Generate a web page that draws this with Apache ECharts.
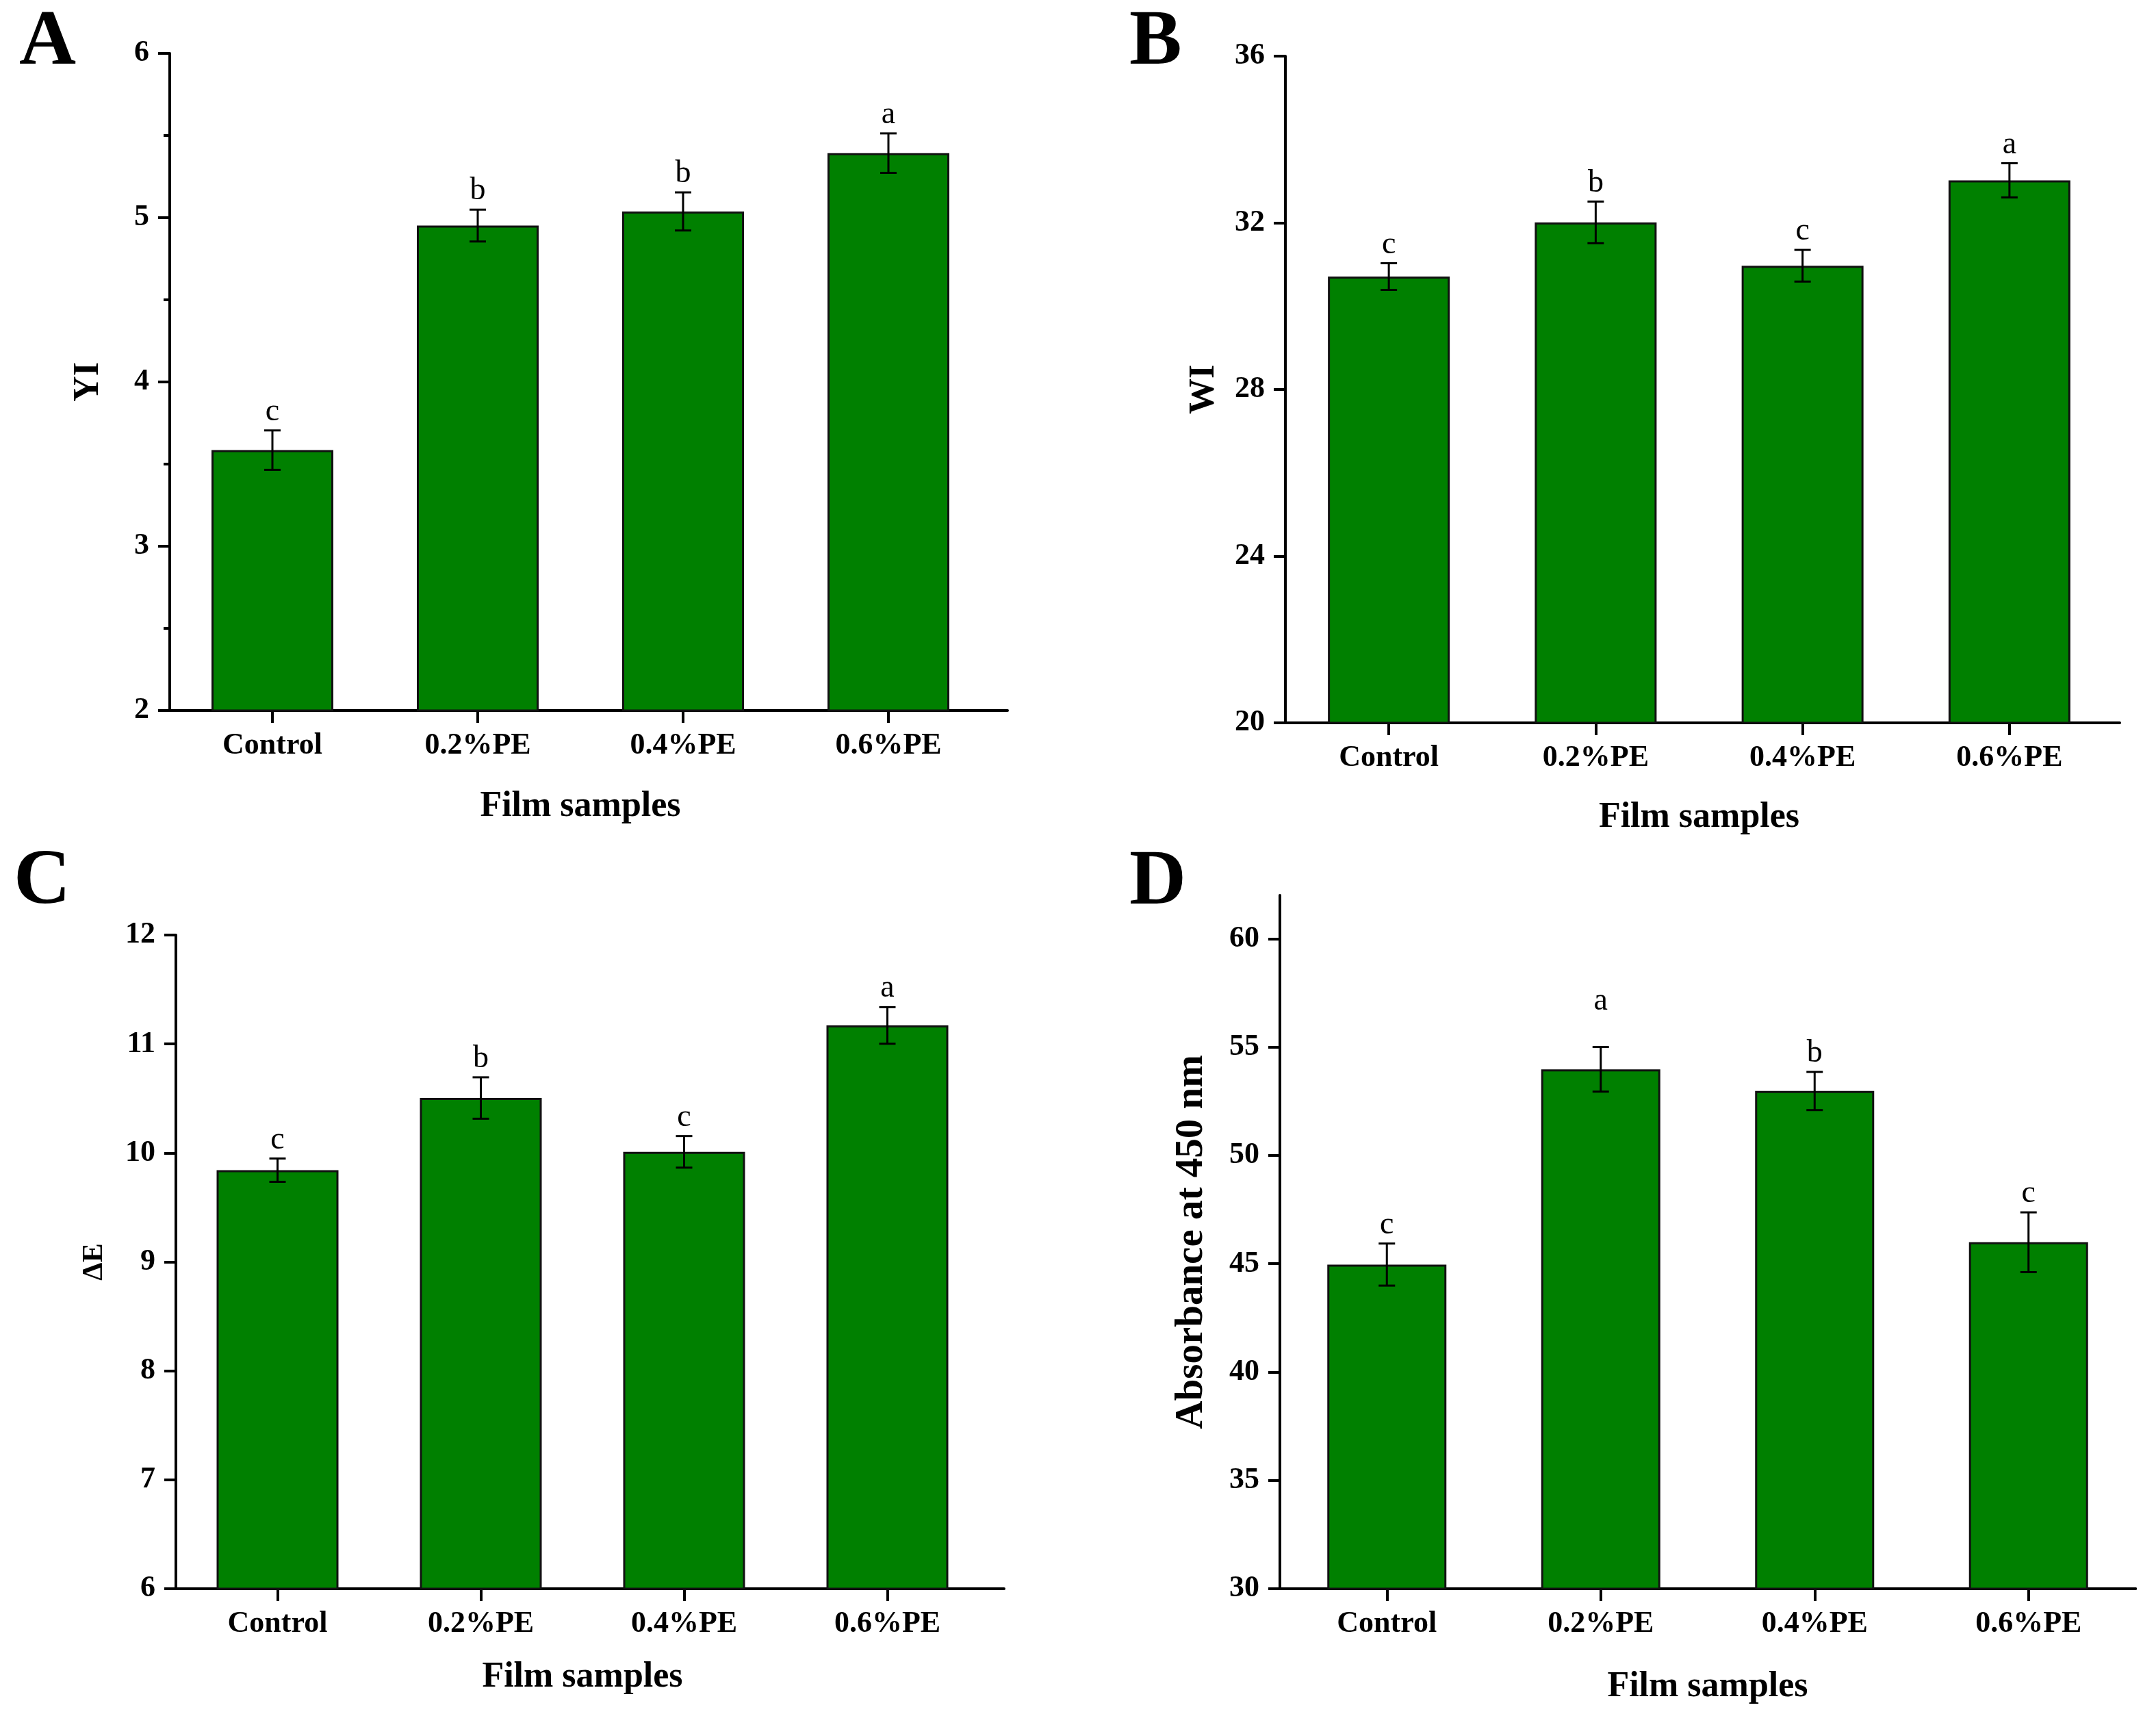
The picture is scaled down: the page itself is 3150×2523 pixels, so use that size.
<!DOCTYPE html>
<html>
<head>
<meta charset="utf-8">
<script src="https://cdn.jsdelivr.net/npm/echarts@6/dist/echarts.min.js"></script>
<style>
html,body{margin:0;padding:0;background:#fff;}
#chart{width:3150px;height:2523px;}
</style>
</head>
<body>
<div id="chart"></div>
<script>
// ---- data ----
const categories = ['Control', '0.2%PE', '0.4%PE', '0.6%PE'];

const yiMean = [3.585, 4.952, 5.038, 5.393];
const yiErr = [0.12, 0.097, 0.116, 0.12];
const yiLetters = ['c', 'b', 'b', 'a'];
const yiTicks = [2, 3, 4, 5, 6];

const wiMean = [30.71, 32.01, 30.97, 33.02];
const wiErr = [0.32, 0.5, 0.38, 0.41];
const wiLetters = ['c', 'b', 'c', 'a'];
const wiTicks = [20, 24, 28, 32, 36];

const deMean = [9.842, 10.504, 10.01, 11.17];
const deErr = [0.107, 0.19, 0.145, 0.168];
const deLetters = ['c', 'b', 'c', 'a'];
const deTicks = [6, 7, 8, 9, 10, 11, 12];

const absMean = [44.96, 53.97, 52.97, 45.99];
const absErr = [0.97, 1.03, 0.88, 1.38];
const absLetters = ['c', 'a', 'b', 'c'];
const absTicks = [30, 35, 40, 45, 50, 55, 60];

// ---- styles / layout ----
const FONT = '"Liberation Serif", "Times New Roman", serif';
const GREEN = '#008000';

const panels = [
  {tag: 'A', tagPos: [28, 6], grid: {left: 248, top: 78, width: 1200, height: 960}, ext: 24,
   name: 'YI', nameSize: 52, nameGap: 92, xGap: 115, mean: yiMean, err: yiErr, letters: yiLetters,
   ticks: yiTicks, min: 2, max: 6, interval: 1, minor: true, barWidth: 178, lift: [0,0,0,0]},
  {tag: 'B', tagPos: [1650, 6], grid: {left: 1878, top: 82, width: 1209, height: 974}, ext: 10,
   name: 'WI', nameSize: 52, nameGap: 92, xGap: 113, mean: wiMean, err: wiErr, letters: wiLetters,
   ticks: wiTicks, min: 20, max: 36, interval: 4, minor: false, barWidth: 178, lift: [0,0,0,0]},
  {tag: 'C', tagPos: [20, 1232], grid: {left: 257, top: 1366, width: 1188, height: 955}, ext: 22,
   name: 'ΔE', nameSize: 42, nameGap: 98, xGap: 104, mean: deMean, err: deErr, letters: deLetters,
   ticks: deTicks, min: 6, max: 12, interval: 1, minor: false, barWidth: 178, lift: [0,0,0,0]},
  {tag: 'D', tagPos: [1650, 1233], grid: {left: 1870, top: 1308, width: 1250, height: 1013}, ext: 0,
   name: 'Absorbance at 450 nm', nameSize: 57, nameGap: 100, xGap: 118, mean: absMean, err: absErr, letters: absLetters,
   ticks: absTicks, min: 30, max: 62, interval: 5, minor: false, barWidth: 174, lift: [0,40,0,0]}
];

const axisLine = {show: true, lineStyle: {color: '#000', width: 4}};

const grids = panels.map(p => Object.assign({containLabel: false}, p.grid));
// extension grids: only carry the longer x-axis baseline
panels.forEach(p => {
  grids.push({left: p.grid.left, top: p.grid.top, height: p.grid.height, width: p.grid.width + p.ext});
});

const xAxes = panels.map((p, k) => ({
  type: 'category', gridIndex: k, data: categories,
  axisLine: axisLine,
  axisTick: {show: true, alignWithLabel: true, inside: false, length: 18, lineStyle: {color: '#000', width: 4}},
  axisLabel: {fontFamily: FONT, fontWeight: 'bold', fontSize: 44, color: '#000', margin: 30},
  splitLine: {show: false},
  name: 'Film samples', nameLocation: 'middle', nameGap: p.xGap,
  nameTextStyle: {fontFamily: FONT, fontWeight: 'bold', fontSize: 52, color: '#000'}
}));
const yAxes = panels.map((p, k) => ({
  type: 'value', gridIndex: k, min: p.min, max: p.max, interval: p.interval,
  axisLine: axisLine,
  axisTick: {show: true, inside: false, length: 17, lineStyle: {color: '#000', width: 4}, customValues: p.ticks},
  minorTick: {show: p.minor, splitNumber: 2, length: 9, lineStyle: {color: '#000', width: 4}},
  axisLabel: {fontFamily: FONT, fontWeight: 'bold', fontSize: 44, color: '#000', margin: 30, customValues: p.ticks,
    formatter: v => (p.ticks.indexOf(v) >= 0 ? String(v) : '')},
  splitLine: {show: false},
  minorSplitLine: {show: false},
  name: p.name, nameLocation: 'middle', nameRotate: 90, nameGap: p.nameGap,
  nameTextStyle: {fontFamily: FONT, fontWeight: 'bold', fontSize: p.nameSize, color: '#000'}
}));
panels.forEach((p, k) => {
  xAxes.push({type: 'value', gridIndex: 4 + k, min: 0, max: 1, axisLine: axisLine,
    axisTick: {show: false}, axisLabel: {show: false}, splitLine: {show: false}, z: 1});
  yAxes.push({type: 'value', gridIndex: 4 + k, min: 0, max: 1, show: false});
});

const option = {
  backgroundColor: '#fff',
  animation: false,
  title: panels.map(p => ({
    text: p.tag, left: p.tagPos[0], top: p.tagPos[1], padding: 0,
    textStyle: {fontFamily: FONT, fontWeight: 'bold', fontSize: 115, color: '#000'}
  })),
  grid: grids,
  xAxis: xAxes,
  yAxis: yAxes,
  series: []
};

panels.forEach((p, k) => {
  option.series.push({
    type: 'bar', xAxisIndex: k, yAxisIndex: k, data: p.mean, barWidth: p.barWidth,
    itemStyle: {color: GREEN, borderColor: '#111', borderWidth: 3},
    z: 2
  });
  option.series.push({
    type: 'custom', xAxisIndex: k, yAxisIndex: k, clip: false, z: 5,
    data: p.mean.map((m, i) => [i, m, p.err[i]]),
    renderItem: function (params, api) {
      const i = api.value(0), m = api.value(1), e = api.value(2);
      const top = api.coord([i, m + e]);
      const bot = api.coord([i, m - e]);
      const cap = 12;
      const st = {stroke: '#000', lineWidth: 3};
      return {
        type: 'group',
        children: [
          {type: 'line', shape: {x1: top[0], y1: top[1], x2: bot[0], y2: bot[1]}, style: st},
          {type: 'line', shape: {x1: top[0] - cap, y1: top[1], x2: top[0] + cap, y2: top[1]}, style: st},
          {type: 'line', shape: {x1: bot[0] - cap, y1: bot[1], x2: bot[0] + cap, y2: bot[1]}, style: st},
          {type: 'text', style: {
            text: p.letters[i], x: top[0], y: top[1] - 4 - p.lift[i],
            textAlign: 'center', textVerticalAlign: 'bottom',
            font: 'normal 46px ' + FONT, fill: '#000'
          }}
        ]
      };
    }
  });
});

const chart = echarts.init(document.getElementById('chart'), null, {renderer: 'canvas', width: 3150, height: 2523});
chart.setOption(option);
</script>
</body>
</html>
